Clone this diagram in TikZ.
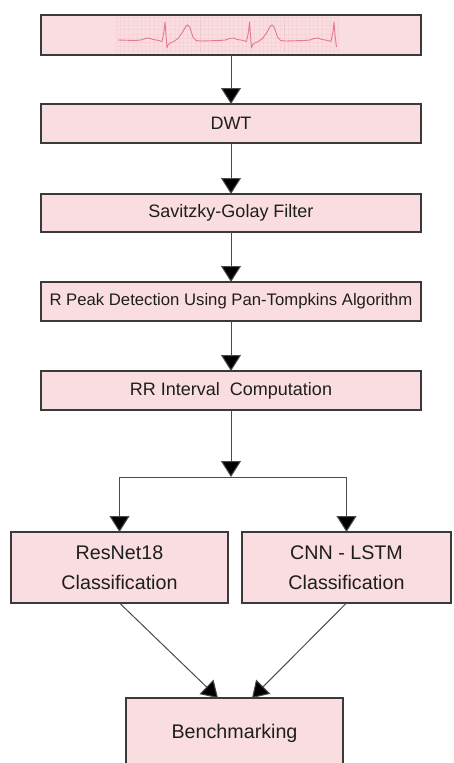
\documentclass[tikz,border=0pt]{standalone}
\usepackage{fontspec}
\setmainfont{Liberation Sans}
\usetikzlibrary{arrows.meta,calc}

\definecolor{boxfill}{HTML}{FADDE0}
\definecolor{boxline}{HTML}{3A3A3A}
\definecolor{linkline}{HTML}{4A4A4A}
\definecolor{textcol}{HTML}{1E1E1E}
\definecolor{ecgline}{HTML}{E37A8C}
\definecolor{gridminor}{HTML}{F5D3D8}
\definecolor{gridmajor}{HTML}{EEC9CE}

\begin{document}
\begin{tikzpicture}[x=1pt,y=-1pt,
  stagebox/.style={draw=boxline, fill=boxfill, line width=1.3pt,
    rectangle, inner sep=0pt, outer sep=0pt, text=textcol, align=center},
  link/.style={draw=linkline, line width=1pt,
    -{Triangle[width=20pt,length=16pt,fill=black]}},
  plainlink/.style={draw=linkline, line width=1pt}]

\useasboundingbox (0,0) rectangle (454,763);
\clip (0,0) rectangle (454,763);

% processing chain
\node[stagebox, minimum width=380pt, minimum height=40pt] (ecg) at (231,35) {};
\node[stagebox, minimum width=380pt, minimum height=39pt, font=\fontsize{18}{21}\selectfont] (dwt) at (231,123.5) {DWT};
\node[stagebox, minimum width=380pt, minimum height=38pt, font=\fontsize{18}{21}\selectfont] (sg) at (231,213) {Savitzky-Golay Filter};
\node[stagebox, minimum width=380pt, minimum height=39pt, font=\fontsize{16.7}{20}\selectfont] (rpeak) at (231,301.5) {R Peak Detection Using Pan-Tompkins Algorithm};
\node[stagebox, minimum width=380pt, minimum height=39pt, font=\fontsize{18}{21}\selectfont] (rr) at (231,390.5) {RR Interval\ \ Computation};

% classifiers
\node[stagebox, minimum width=217pt, minimum height=71pt, font=\fontsize{19.7}{30}\selectfont] (res) at (119.5,567.5) {ResNet18\\Classification};
\node[stagebox, minimum width=209pt, minimum height=71pt, font=\fontsize{19.7}{30}\selectfont] (cnn) at (346.5,567.5) {CNN - LSTM\\Classification};

% final stage (runs past the lower edge)
\node[stagebox, minimum width=217pt, minimum height=70pt, font=\fontsize{19.7}{24}\selectfont] (bench) at (234.5,733) {Benchmarking};

% ECG strip inside the first box
\begin{scope}
  \clip (116,17) rectangle (339,53);
  \foreach \gx in {116,120.2,...,340} \draw[gridminor, line width=0.3pt] (\gx,17) -- (\gx,53);
  \foreach \gy in {17,21.2,...,54} \draw[gridminor, line width=0.3pt] (116,\gy) -- (339,\gy);
  \foreach \gx in {200,284} \draw[gridmajor, line width=0.5pt] (\gx,17) -- (\gx,53);
\end{scope}
\draw[ecgline, line width=0.9pt, line join=round]
  (118,40) -- (135,40.5)
  \foreach \r in {165,249.5} {
    -- (\r-24,40) -- (\r-20,38.5) -- (\r-16,38) -- (\r-12,39.5) -- (\r-6,40.5)
    -- (\r-3,41.5) -- (\r-1,32) -- (\r,22) -- (\r+1,35) -- (\r+2,48) -- (\r+3,45)
    -- (\r+5,43) -- (\r+8,42) -- (\r+13,38.5) -- (\r+17,33) -- (\r+21,26)
    -- (\r+23,25) -- (\r+25,28) -- (\r+28,37) -- (\r+31,40.5) -- (\r+36,41)
    -- (\r+54.5,40.5)
  }
  -- (310,40) -- (314,38.5) -- (318,38) -- (322,39.5) -- (328,40.5)
  -- (331,41.5) -- (333,32) -- (334,22) -- (335,35) -- (336.5,47);

% connectors
\draw[link] (ecg.south) -- (dwt.north);
\draw[link] (dwt.south) -- (sg.north);
\draw[link] (sg.south) -- (rpeak.north);
\draw[link] (rpeak.south) -- (rr.north);

\coordinate (split) at (231,477);
\draw[link] (rr.south) -- (split);
\draw[plainlink] (res.north |- split) -- (cnn.north |- split);
\draw[link] (res.north |- split) -- (res.north);
\draw[link] (cnn.north |- split) -- (cnn.north);

\draw[link] (res.south) -- ($(bench.north)+(-16.5,0)$);
\draw[link] (cnn.south) -- ($(bench.north)+(17.5,0)$);
\end{tikzpicture}
\end{document}
